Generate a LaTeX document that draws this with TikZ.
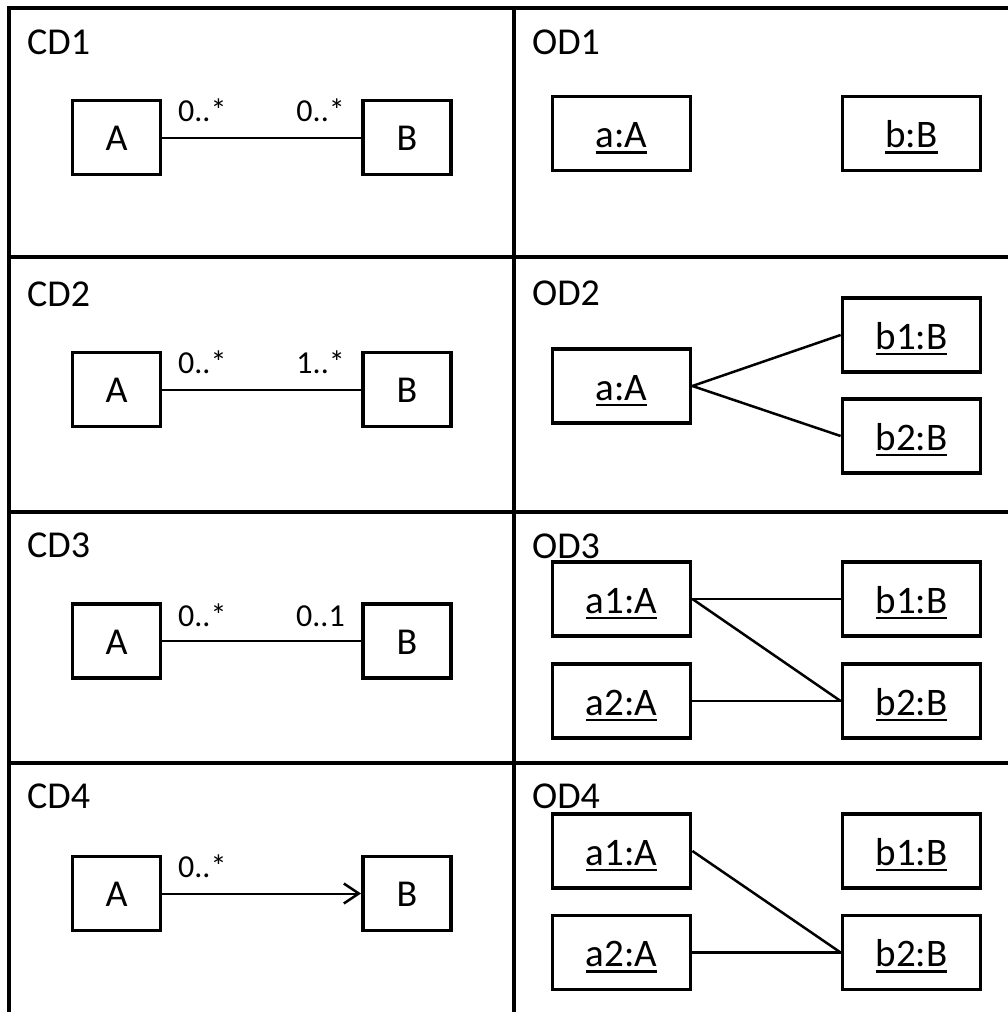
\documentclass[tikz,border=0pt]{standalone}
\usepackage{fontspec}
\setmainfont{Carlito}
\usetikzlibrary{arrows.meta}
\newcommand{\uln}[1]{\setbox0\hbox{#1}\rlap{\rule[-6pt]{\wd0}{2.2pt}}\box0}
\begin{document}
\begin{tikzpicture}[x=1pt,y=-1pt,
 grid/.style={line width=4pt},
 cls/.style={draw,line width=3.8pt,minimum width=88pt,minimum height=74pt,inner sep=0pt,font=\fontsize{38}{42}\selectfont,text height=26pt,text depth=0pt},
 obj/.style={draw,line width=3.8pt,minimum width=138pt,minimum height=74pt,inner sep=0pt,font=\fontsize{39}{42}\selectfont,text height=28pt,text depth=0pt},
 ttl/.style={anchor=base west,inner sep=0pt,font=\fontsize{38}{42}\selectfont},
 multl/.style={anchor=base west,inner sep=0pt,font=\fontsize{32}{36}\selectfont},
 multr/.style={anchor=base east,inner sep=0pt,font=\fontsize{32}{36}\selectfont},
 assoc/.style={line width=2pt},
 link/.style={line width=2.5pt}]
\useasboundingbox (0,0) rectangle (1008,1012);
\begin{scope}
\clip (0,0) rectangle (1008,1012);
\draw[grid] (9,1020) -- (9,8) -- (1020,8);
\draw[grid] (514,8) -- (514,1020);
\draw[grid] (9,257) -- (1020,257);
\draw[grid] (9,512) -- (1020,512);
\draw[grid] (9,763) -- (1020,763);
\end{scope}
% titles
\node[ttl] (cd1) at (27,54) {CD1};
\node[ttl] (cd2) at (27,306) {CD2};
\node[ttl] (cd3) at (27,557) {CD3};
\node[ttl] (cd4) at (27,808) {CD4};
\node[ttl] (od1) at (532,54) {OD1};
\node[ttl] (od2) at (532,305) {OD2};
\node[ttl] (od3) at (532,558) {OD3};
\node[ttl] (od4) at (532,808) {OD4};
% class diagrams
\node[cls] (A1) at (116.5,137.5) {A};
\node[cls] (B1) at (407,137.5) {B};
\draw[assoc] (A1) -- (B1);
\node[multl] (m1l) at (178,121) {0..*};
\node[multr] (m1r) at (345,121) {0..*};
\node[cls] (A2) at (116.5,389.5) {A};
\node[cls] (B2) at (407,389.5) {B};
\draw[assoc] (A2) -- (B2);
\node[multl] (m2l) at (178,373) {0..*};
\node[multr] (m2r) at (345,373) {1..*};
\node[cls] (A3) at (116.5,641) {A};
\node[cls] (B3) at (407,641) {B};
\draw[assoc] (A3) -- (B3);
\node[multl] (m3l) at (178,626) {0..*};
\node[multr] (m3r) at (345,626) {0..1};
\node[cls] (A4) at (116.5,893.5) {A};
\node[cls] (B4) at (407,893.5) {B};
\draw[assoc,-{Straight Barb[length=15pt,width=20pt,line width=2.5pt]}] (A4) -- (B4);
\node[multl] (m4l) at (178,877) {0..*};
% object diagrams
\node[obj] (o1a) at (621.5,133.5) {\uln{a:A}};
\node[obj] (o1b) at (911.5,133.5) {\uln{b:B}};
\node[obj] (o2a) at (621.5,386) {\uln{a:A}};
\node[obj] (o2b1) at (911.5,335) {\uln{b1:B}};
\node[obj] (o2b2) at (911.5,436) {\uln{b2:B}};
\draw[link] (o2a.east) -- (o2b1.west);
\draw[link] (o2a.east) -- (o2b2.west);
\node[obj] (o3a1) at (621.5,599) {\uln{a1:A}};
\node[obj] (o3a2) at (621.5,701) {\uln{a2:A}};
\node[obj] (o3b1) at (911.5,599) {\uln{b1:B}};
\node[obj] (o3b2) at (911.5,701) {\uln{b2:B}};
\draw[link] (o3a1.east) -- (o3b1.west);
\draw[link] (o3a1.east) -- (o3b2.west);
\draw[link] (o3a2.east) -- (o3b2.west);
\node[obj] (o4a1) at (621.5,851) {\uln{a1:A}};
\node[obj] (o4a2) at (621.5,952.5) {\uln{a2:A}};
\node[obj] (o4b1) at (911.5,851) {\uln{b1:B}};
\node[obj] (o4b2) at (911.5,952.5) {\uln{b2:B}};
\draw[link] (o4a1.east) -- (o4b2.west);
\draw[link] (o4a2.east) -- (o4b2.west);
\end{tikzpicture}
\end{document}
